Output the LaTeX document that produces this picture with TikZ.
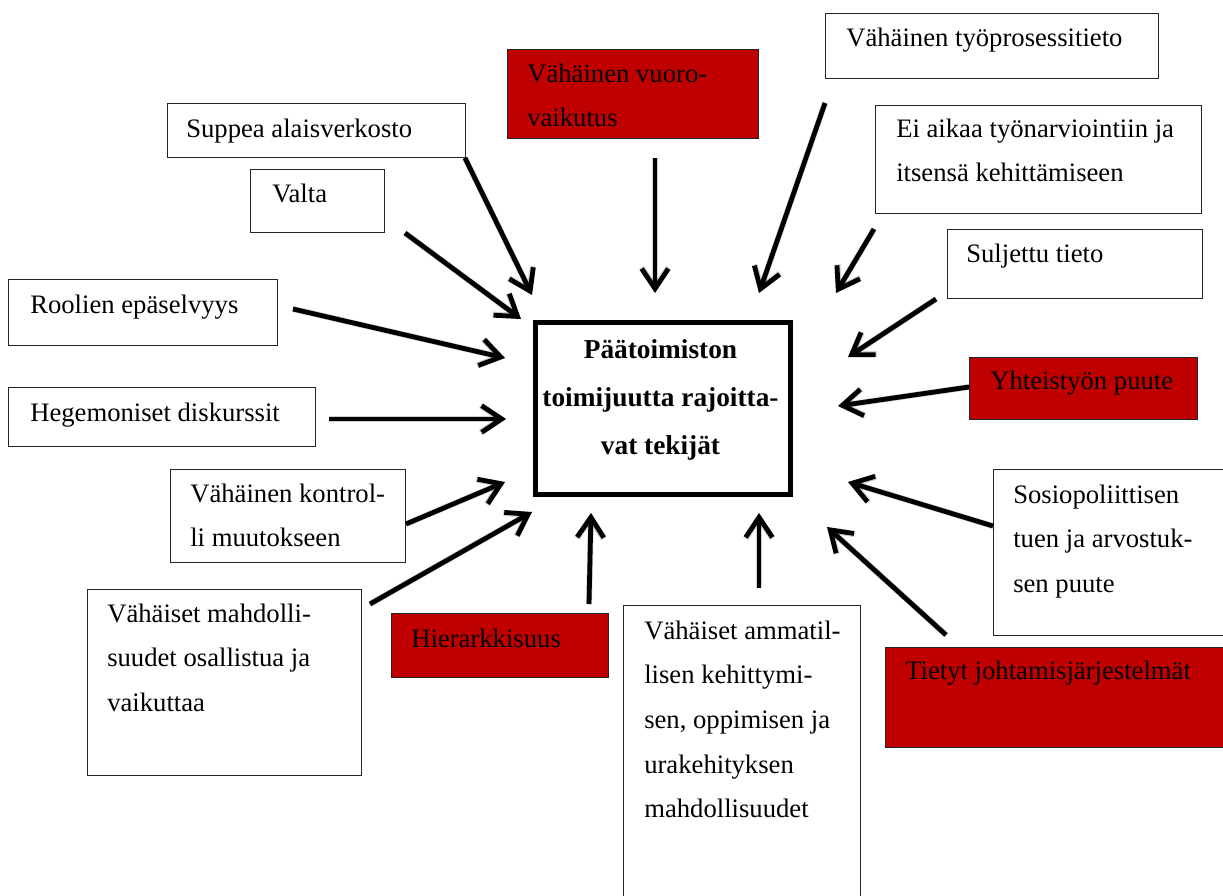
\documentclass[tikz,border=0pt]{standalone}
\usepackage{fontspec}
\setmainfont{Liberation Serif}
\usetikzlibrary{arrows.meta}
\definecolor{wordred}{HTML}{C00000}
\newcommand\tstrut{\rule{0pt}{24pt}}
\newcommand\mkbox[6]{\node[#6,anchor=north west,minimum width={(#4-#2)*0.75pt},minimum height={(#5-#3)*0.75pt}] (#1) at (#2,#3) {};}
\newcommand\mktext[4]{\node[txt] (#1) at (#2,#3-32) {\tstrut #4};}
\tikzset{
  box/.style={draw=black!85, line width=1pt, fill=white, inner sep=0pt},
  redbox/.style={box, fill=wordred},
  txt/.style={anchor=north west, inner sep=0pt, align=left, font=\fontsize{20}{33.5}\selectfont},
  ctxt/.style={anchor=north, inner sep=0pt, align=center, font=\fontsize{20.5}{36}\selectfont\bfseries},
  arr/.style={line width=3.6pt, -{Straight Barb[length=15pt,width=20pt]}},
  arrshadow/.style={arr, draw=black, opacity=0.18, line width=4.5pt, shift={(2,3)}}
}
\begin{document}
\begin{tikzpicture}[x=0.75pt,y=-0.75pt]
\useasboundingbox (0,0) rectangle (1223,895);
% boxes
\mkbox{vuoro}{507}{49}{758}{138}{redbox}
\mkbox{tyo}{825}{13}{1158}{78}{box}
\mkbox{suppea}{167}{103}{465}{157}{box}
\mkbox{valta}{250}{169}{384}{232}{box}
\mkbox{eiaikaa}{875}{105}{1201}{213}{box}
\mkbox{suljettu}{947}{229}{1202}{298}{box}
\mkbox{roolien}{8}{279}{277}{345}{box}
\mkbox{hegem}{8}{387}{315}{446}{box}
\mkbox{yhteis}{969}{357}{1197}{419}{redbox}
\mkbox{kontrolli}{170}{469}{405}{562}{box}
\mkbox{sosio}{993}{469}{1240}{635}{box}
\mkbox{mahd}{87}{589}{361}{775}{box}
\mkbox{hier}{391}{613}{608}{677}{redbox}
\mkbox{ammat}{623}{605}{860}{910}{box}
\mkbox{tietyt}{885}{647}{1240}{747}{redbox}
\node[draw=black, line width=3.75pt, fill=white, anchor=north west, inner sep=0pt,
      minimum width={255*0.75pt}, minimum height={172*0.75pt}] (center) at (533,320) {};
% texts
\mktext{vuoroT}{527}{82}{Vähäinen vuoro-\\vaikutus}
\mktext{tyoT}{846}{46}{Vähäinen työprosessitieto}
\mktext{suppeaT}{186}{137}{Suppea alaisverkosto}
\mktext{valtaT}{272}{202}{Valta}
\mktext{eiaikaaT}{896}{137}{Ei aikaa työnarviointiin ja\\itsensä kehittämiseen}
\mktext{suljettuT}{966}{262}{Suljettu tieto}
\mktext{roolienT}{30}{313}{Roolien epäselvyys}
\mktext{hegemT}{30}{421}{Hegemoniset diskurssit}
\mktext{yhteisT}{990}{389}{Yhteistyön puute}
\mktext{kontrolliT}{190}{502}{Vähäinen kontrol-\\li muutokseen}
\mktext{sosioT}{1013}{503}{Sosiopoliittisen\\tuen ja arvostuk-\\sen puute}
\mktext{mahdT}{107}{622}{Vähäiset mahdolli-\\suudet osallistua ja\\vaikuttaa}
\mktext{hierT}{411}{647}{Hierarkkisuus}
\mktext{ammatT}{644}{639}{Vähäiset ammatil-\\lisen kehittymi-\\sen, oppimisen ja\\urakehityksen\\mahdollisuudet}
\mktext{tietytT}{905}{679}{Tietyt johtamisjärjestelmät}
\node[ctxt] (centerT) at (660.5,358-32) {\tstrut Päätoimiston\\toimijuutta rajoitta-\\vat tekijät};
% arrow end points
\coordinate (s1) at (465,158); \coordinate (e1) at (532,295);
\coordinate (s2) at (405,233); \coordinate (e2) at (521,319);
\coordinate (s3) at (293,309); \coordinate (e3) at (505,358);
\coordinate (s4) at (329,419); \coordinate (e4) at (506,419);
\coordinate (s5) at (655,158); \coordinate (e5) at (655,293);
\coordinate (s6) at (825,103); \coordinate (e6) at (759,293);
\coordinate (s7) at (874,229); \coordinate (e7) at (836,293);
\coordinate (s8) at (936,299); \coordinate (e8) at (848,357);
\coordinate (s9) at (969,387); \coordinate (e9) at (838,406);
\coordinate (s10) at (406,524); \coordinate (e10) at (505,482);
\coordinate (s11) at (370,604); \coordinate (e11) at (532,512);
\coordinate (s12) at (589,604); \coordinate (e12) at (591,513);
\coordinate (s13) at (759,588); \coordinate (e13) at (759,513);
\coordinate (s14) at (946,635); \coordinate (e14) at (827,527);
\coordinate (s15) at (993,526); \coordinate (e15) at (848,482);
\foreach \i in {1,...,15}{\draw[arrshadow] (s\i) -- (e\i);}
\foreach \i in {1,...,15}{\draw[arr] (s\i) -- (e\i);}
\end{tikzpicture}
\end{document}
